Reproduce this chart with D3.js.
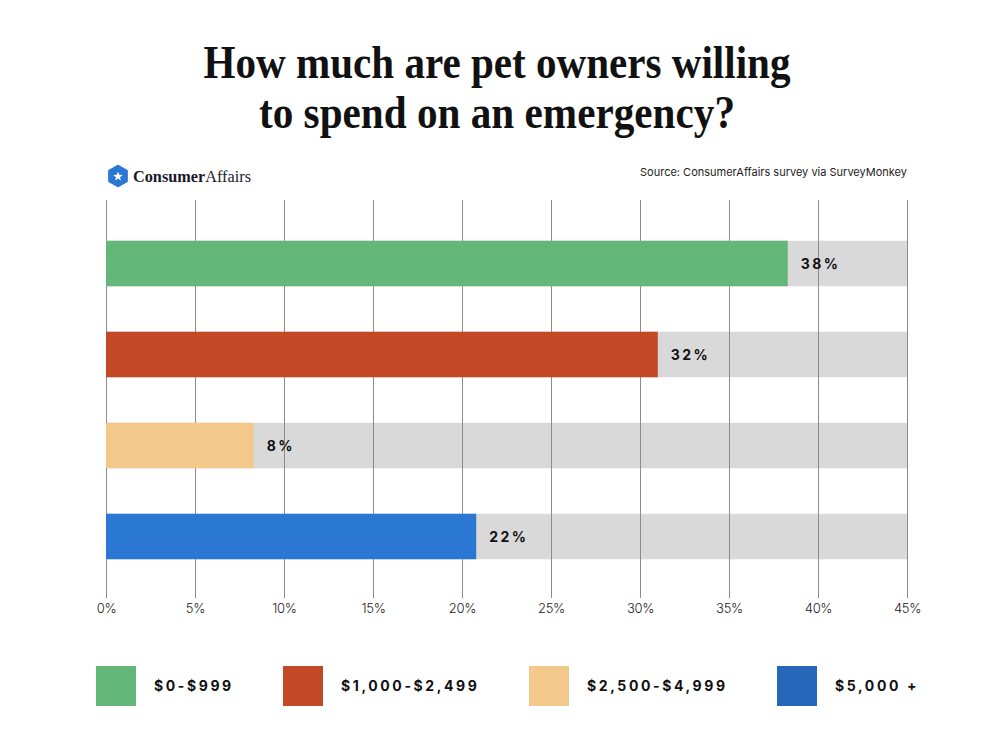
<!DOCTYPE html>
<html>
<head>
<meta charset="utf-8">
<script src="https://cdn.jsdelivr.net/npm/d3@7"></script>
<style>
  html, body { margin: 0; padding: 0; background: #ffffff; }
  svg { display: block; }
</style>
</head>
<body>
<svg id="chart" width="998" height="755"></svg>
<script>
// ---- data ----
const titleLines = ["How much are pet owners willing", "to spend on an emergency?"];
const source = "Source: ConsumerAffairs survey via SurveyMonkey";
const categories = ["$0-$999", "$1,000-$2,499", "$2,500-$4,999", "$5,000 +"];
const values = [38.3, 31.0, 8.3, 20.8];          // bar lengths as drawn (%)
const valueLabels = ["38%", "32%", "8%", "22%"]; // labels as printed
const colors = ["#63b879", "#c44a27", "#f2c98b", "#2b78d4"];
const legendColors = ["#63b879", "#c44a27", "#f2c98b", "#2767ba"];
const ticks = [0, 5, 10, 15, 20, 25, 30, 35, 40, 45];
const maxValue = 45;

// ---- layout ----
const svg = d3.select("#chart");
const left = 106, right = 907, gridTop = 200, gridBottom = 598;
const x = d3.scaleLinear().domain([0, maxValue]).range([left, right]);
const y = d3.scaleBand().domain(categories).range([218, 582]).paddingInner(0.5).paddingOuter(0.25);

// title
const titleWidths = [587, 476];
titleLines.forEach((t, i) => {
  svg.append("text")
    .attr("x", 497).attr("y", 78 + i * 50)
    .attr("text-anchor", "middle")
    .attr("font-family", "'Liberation Serif', 'Times New Roman', serif")
    .attr("font-weight", 700)
    .attr("font-size", 47)
    .attr("fill", "#111")
    .attr("textLength", titleWidths[i])
    .attr("lengthAdjust", "spacingAndGlyphs")
    .text(t);
});

// logo
const logo = svg.append("g").attr("transform", "translate(118,176)");
const hex = d3.range(6).map(k => {
  const a = Math.PI / 6 + k * Math.PI / 3;
  return [10.5 * Math.cos(a), 10.5 * Math.sin(a)];
});
logo.append("path").attr("d", "M" + hex.join("L") + "Z").attr("fill", "#2b78d4")
  .attr("stroke", "#2b78d4").attr("stroke-width", 1.5).attr("stroke-linejoin", "round");
const star = d3.range(10).map(k => {
  const r = k % 2 === 0 ? 5 : 2.1;
  const a = -Math.PI / 2 + k * Math.PI / 5;
  return [r * Math.cos(a), r * Math.sin(a) + 0.5];
});
logo.append("path").attr("d", "M" + star.join("L") + "Z").attr("fill", "#fff");
const logoText = svg.append("text").attr("x", 133).attr("y", 182)
  .attr("font-family", "'Liberation Serif', serif").attr("font-size", 17).attr("fill", "#1a1a2a")
  .attr("textLength", 118).attr("lengthAdjust", "spacingAndGlyphs");
logoText.append("tspan").attr("font-weight", 700).text("Consumer");
logoText.append("tspan").attr("font-weight", 400).text("Affairs");

// source
svg.append("text").attr("x", 907).attr("y", 176).attr("text-anchor", "end")
  .attr("font-family", "Inter, 'Noto Sans', sans-serif").attr("font-size", 11).attr("fill", "#222")
  .text(source);

// background bars
svg.append("g").selectAll("rect").data(categories).join("rect")
  .attr("x", x(0)).attr("y", d => y(d))
  .attr("width", x(maxValue) - x(0)).attr("height", y.bandwidth())
  .attr("fill", "#d9d9d9");

// gridlines
svg.append("g").selectAll("line").data(ticks).join("line")
  .attr("x1", d => x(d)).attr("x2", d => x(d))
  .attr("y1", gridTop).attr("y2", gridBottom)
  .attr("stroke", "#8b8b93").attr("stroke-width", 1)
  .attr("shape-rendering", "crispEdges");

// bars
svg.append("g").selectAll("rect").data(categories).join("rect")
  .attr("x", x(0)).attr("y", d => y(d))
  .attr("width", (d, i) => x(values[i]) - x(0)).attr("height", y.bandwidth())
  .attr("fill", (d, i) => colors[i]);

// value labels
svg.append("g").selectAll("text").data(categories).join("text")
  .attr("x", (d, i) => x(values[i]) + 13)
  .attr("y", d => y(d) + y.bandwidth() / 2 + 5)
  .attr("font-family", "Inter, 'Noto Sans', sans-serif")
  .attr("font-weight", 700).attr("font-size", 14).attr("letter-spacing", 2.4)
  .attr("fill", "#111")
  .text((d, i) => valueLabels[i]);

// x axis
const axis = d3.axisBottom(x).tickValues(ticks).tickFormat(d => d + "%").tickSize(0).tickPadding(0);
const ax = svg.append("g").attr("transform", `translate(0,${gridBottom})`).call(axis);
ax.select(".domain").remove();
ax.selectAll("text").attr("dy", 0).attr("y", 15)
  .attr("font-family", "Inter, 'Noto Sans', sans-serif").attr("font-size", 13)
  .attr("font-weight", 300).attr("letter-spacing", -0.3).attr("fill", "#222");

// legend
const legendX = [96, 283, 529, 777];
const lg = svg.append("g").selectAll("g").data(categories).join("g")
  .attr("transform", (d, i) => `translate(${legendX[i]},666)`);
lg.append("rect").attr("width", 40).attr("height", 40).attr("fill", (d, i) => legendColors[i]);
lg.append("text").attr("x", 58).attr("y", 25)
  .attr("font-family", "Inter, 'Noto Sans', sans-serif").attr("font-weight", 700)
  .attr("font-size", 14).attr("letter-spacing", 2.6).attr("fill", "#111")
  .text(d => d);
</script>
</body>
</html>
